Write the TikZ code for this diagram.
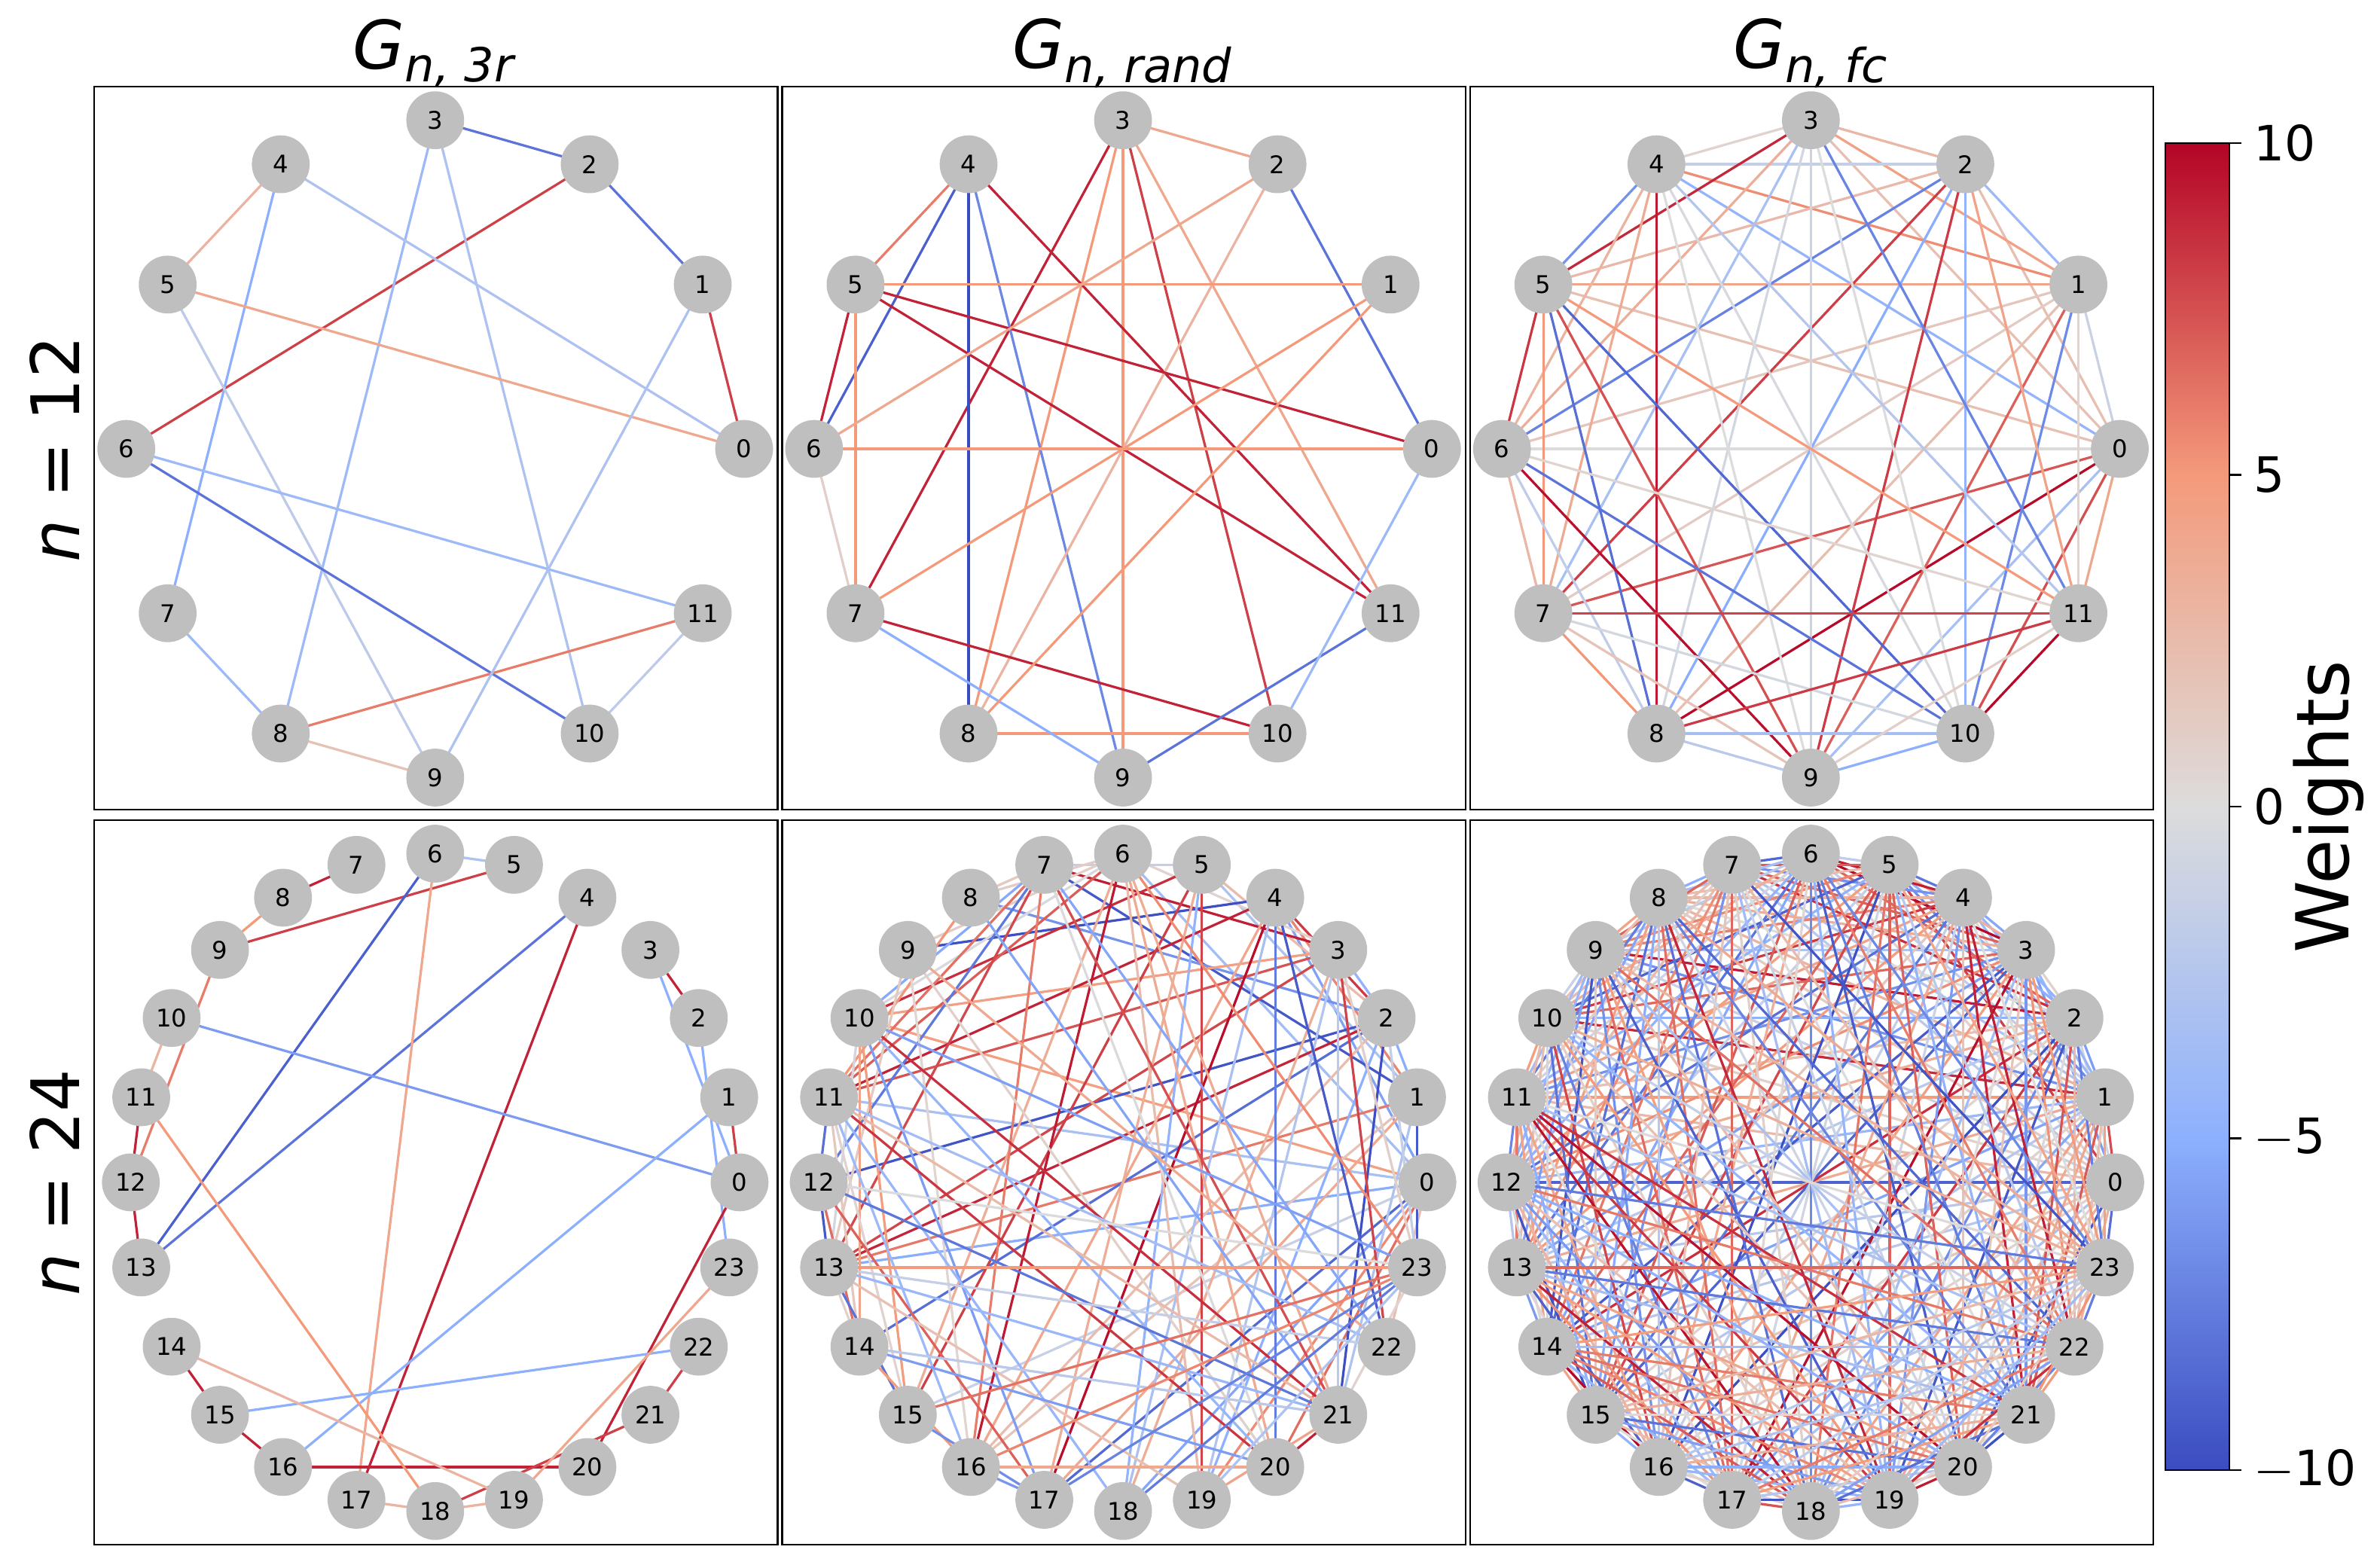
\documentclass[tikz,border=0pt]{standalone}
\usepackage{fontspec}
\setmainfont{DejaVu Sans}
\usetikzlibrary{calc,backgrounds}
\definecolor{cwblue}{RGB}{59,76,192}
\definecolor{cwlblue}{RGB}{141,176,254}
\definecolor{cwmid}{RGB}{221,220,220}
\definecolor{cwlred}{RGB}{244,154,123}
\definecolor{cwred}{RGB}{180,4,38}
\definecolor{vgray}{RGB}{191,191,191}
\pgfdeclareverticalshading{coolwarm}{100bp}{color(0bp)=(cwblue); color(25bp)=(cwblue); color(37.5bp)=(cwlblue); color(50bp)=(cwmid); color(62.5bp)=(cwlred); color(75bp)=(cwred); color(100bp)=(cwred)}
\newcommand\wcolor[1]{%
  \pgfmathtruncatemacro\wlo{min(abs(#1)*20,100)}%
  \pgfmathtruncatemacro\whi{max(min(abs(#1)*20-100,100),0)}%
  \ifdim #1pt<0pt
    \ifnum\whi>0 \colorlet{ec}{cwblue!\whi!cwlblue}\else\colorlet{ec}{cwlblue!\wlo!cwmid}\fi
  \else
    \ifnum\whi>0 \colorlet{ec}{cwred!\whi!cwlred}\else\colorlet{ec}{cwlred!\wlo!cwmid}\fi
  \fi}
\tikzset{
  vtx/.style={circle, fill=vgray, minimum size=19pt, inner sep=0pt, font=\fontsize{8}{8}\selectfont},
  edge/.style={line width=0.8pt, ec},
  panel/.style={draw=black, line width=0.6pt},
  title/.style={font=\fontsize{22}{22}\selectfont},
  tick/.style={font=\fontsize{16}{16}\selectfont, anchor=west}
}
\begin{document}
\begin{tikzpicture}[x=0.5pt,y=-0.5pt]
  \useasboundingbox (0,0) rectangle (1564,1030);
  % Panels
  \foreach \x in {62,514,966}{
    \draw[panel] (\x,57) rectangle ++(449,475);
    \draw[panel] (\x,539) rectangle ++(449,476);
  }
  % Titles
  \node[title] (t1) at (286,35) {\textit{G}\textsubscript{\textit{n, 3r}}};
  \node[title] (t2) at (738,35) {\textit{G}\textsubscript{\textit{n, rand}}};
  \node[title] (t3) at (1190,35) {\textit{G}\textsubscript{\textit{n, fc}}};
  \node[title, rotate=90] (r1) at (36,295) {\textit{n} = 12};
  \node[title, rotate=90] (r2) at (36,777) {\textit{n} = 24};

  % Vertices
  \foreach \p/\cx in {a/286,b/738,c/1190}
    \foreach \k in {0,...,11}
      \node[vtx] (\p\k) at ({\cx+203*cos(30*\k)},{295-216*sin(30*\k)}) {\k};
  \foreach \p/\cx in {d/286,e/738,f/1190}
    \foreach \k in {0,...,23}
      \node[vtx] (\p\k) at ({\cx+200*cos(15*\k)},{777-216*sin(15*\k)}) {\k};

  \begin{pgfonlayer}{background}
  % Edges, 3-regular, n = 12
  \foreach \i/\j/\w in {3/2/-8, 2/1/-8, 1/0/8, 2/6/8, 4/5/3, 4/7/-5, 3/8/-4, 3/10/-3,
      4/0/-3, 5/0/4, 5/9/-2, 6/11/-4, 6/10/-8, 7/8/-4, 8/9/2, 8/11/6, 9/1/-3, 10/11/-2}
    {\wcolor{\w}\draw[edge] (a\i.center) -- (a\j.center);}
  % Edges, random, n = 12
  \foreach \i/\j/\w in {3/2/4, 3/7/9, 3/8/5, 3/9/5, 3/10/8, 3/11/4, 4/5/6, 4/6/-9, 4/8/-10,
      4/9/-7, 4/11/9, 2/8/3, 2/0/-8, 5/1/5, 5/0/9, 5/11/9, 5/6/9, 5/7/5, 6/0/5, 6/7/1,
      1/7/5, 7/10/9, 8/10/5, 9/11/-8, 9/7/-5, 0/10/-4, 2/6/4, 8/1/5}
    {\wcolor{\w}\draw[edge] (b\i.center) -- (b\j.center);}
  % Edges, 3-regular, n = 24
  \foreach \i/\j/\w in {7/8/9, 5/9/8, 5/6/-3, 6/13/-9, 4/13/-8, 4/17/9, 6/17/4, 9/12/6,
      10/0/-6, 11/12/9, 12/13/9, 10/11/3, 3/2/9, 2/23/-5, 1/0/8, 0/20/9, 14/15/9,
      15/16/9, 16/20/9, 15/22/-5, 16/1/-5, 17/18/3, 18/19/3, 18/21/8, 19/23/4,
      11/18/5, 21/22/8, 3/0/-5, 8/9/5, 14/19/3}
    {\wcolor{\w}\draw[edge] (d\i.center) -- (d\j.center);}
  % Edges, fully connected and random, drawn from a fixed seed
  \pgfmathsetseed{7}
  \foreach \i in {0,...,10}{
    \pgfmathtruncatemacro\ii{\i+1}
    \foreach \j in {\ii,...,11}{
      \pgfmathsetmacro\w{rand*10}\wcolor{\w}\draw[edge] (c\i.center) -- (c\j.center);
    }
  }
  \foreach \i in {0,...,22}{
    \pgfmathtruncatemacro\ii{\i+1}
    \foreach \j in {\ii,...,23}{
      \pgfmathsetmacro\w{rand*10}\wcolor{\w}\draw[edge] (f\i.center) -- (f\j.center);
      \pgfmathsetmacro\r{rnd}
      \ifdim\r pt<0.42pt
        \pgfmathsetmacro\w{rand*10}\wcolor{\w}\draw[edge] (e\i.center) -- (e\j.center);
      \fi
    }
  }
  \end{pgfonlayer}

  % Colour bar
  \shade[shading=coolwarm] (1423,94) rectangle (1465,966);
  \draw[panel] (1423,94) rectangle (1465,966);
  \foreach \y/\t in {94/10, 312/5, 530/0, 748/$-$5, 966/$-$10}{
    \draw[line width=0.6pt] (1465,\y) -- (1473,\y);
    \node[tick] at (1474,\y) {\t};
  }
  \node[title, rotate=90, font=\fontsize{24}{24}\selectfont] (wl) at (1530,530) {Weights};
\end{tikzpicture}
\end{document}
